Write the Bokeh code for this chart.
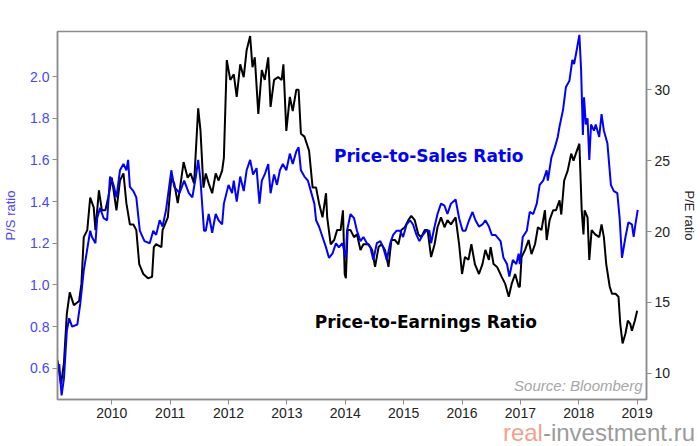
from bokeh.plotting import figure
from bokeh.models import Range1d, LinearAxis, FixedTicker, Label, PrintfTickFormatter, Div
from bokeh.layouts import column
from bokeh.embed import file_html
from bokeh.resources import INLINE

# ---- data (decimal year, value) ----
ps_years = [2009.10, 2009.14, 2009.18, 2009.23, 2009.27, 2009.32, 2009.41, 2009.46, 2009.52, 2009.55,
            2009.63, 2009.66, 2009.72, 2009.75, 2009.80, 2009.86, 2009.92, 2009.97, 2010.03, 2010.08,
            2010.14, 2010.20, 2010.25, 2010.28, 2010.31, 2010.37, 2010.42, 2010.48, 2010.56, 2010.65,
            2010.71, 2010.76, 2010.82, 2010.87, 2010.93, 2011.02, 2011.07, 2011.16, 2011.24, 2011.32,
            2011.38, 2011.44, 2011.48, 2011.52, 2011.58, 2011.61, 2011.66, 2011.72, 2011.78, 2011.83,
            2011.89, 2011.92, 2012.00, 2012.06, 2012.09, 2012.14, 2012.20, 2012.26, 2012.31, 2012.37,
            2012.42, 2012.48, 2012.53, 2012.57, 2012.62, 2012.68, 2012.72, 2012.78, 2012.83, 2012.88,
            2012.93, 2012.99, 2013.05, 2013.10, 2013.16, 2013.20, 2013.24, 2013.30, 2013.36, 2013.41,
            2013.47, 2013.50, 2013.55, 2013.61, 2013.67, 2013.72, 2013.78, 2013.84, 2013.89, 2013.95,
            2014.01, 2014.03, 2014.09, 2014.15, 2014.20, 2014.26, 2014.31, 2014.37, 2014.43, 2014.48,
            2014.54, 2014.60, 2014.65, 2014.71, 2014.77, 2014.82, 2014.88, 2014.94, 2014.99, 2015.05,
            2015.11, 2015.16, 2015.22, 2015.27, 2015.33, 2015.39, 2015.44, 2015.47, 2015.53, 2015.58,
            2015.64, 2015.70, 2015.75, 2015.81, 2015.89, 2015.95, 2016.01, 2016.06, 2016.12, 2016.18,
            2016.23, 2016.29, 2016.35, 2016.40, 2016.46, 2016.51, 2016.57, 2016.66, 2016.71, 2016.77,
            2016.81, 2016.87, 2016.93, 2016.97, 2016.99, 2017.04, 2017.11, 2017.16, 2017.22, 2017.28,
            2017.33, 2017.39, 2017.45, 2017.47, 2017.53, 2017.59, 2017.64, 2017.67, 2017.73, 2017.78,
            2017.84, 2017.89, 2017.92, 2017.96, 2018.01, 2018.04, 2018.07, 2018.09, 2018.12, 2018.15,
            2018.18, 2018.21, 2018.26, 2018.29, 2018.35, 2018.39, 2018.43, 2018.49, 2018.55, 2018.60,
            2018.66, 2018.70, 2018.74, 2018.80, 2018.85, 2018.91, 2018.94, 2018.97, 2019.01]
ps_values = [0.62, 0.47, 0.55, 0.78, 0.84, 0.80, 0.81, 0.91, 1.07, 1.12,
             1.26, 1.23, 1.20, 1.32, 1.37, 1.32, 1.31, 1.52, 1.48, 1.42,
             1.55, 1.58, 1.55, 1.60, 1.47, 1.45, 1.42, 1.26, 1.21, 1.20,
             1.26, 1.24, 1.31, 1.28, 1.36, 1.55, 1.47, 1.44, 1.50, 1.44,
             1.42, 1.52, 1.60, 1.50, 1.26, 1.26, 1.34, 1.25, 1.34, 1.31,
             1.29, 1.39, 1.48, 1.44, 1.50, 1.40, 1.52, 1.45, 1.55, 1.60,
             1.53, 1.56, 1.39, 1.50, 1.53, 1.58, 1.44, 1.53, 1.48, 1.55,
             1.58, 1.55, 1.63, 1.58, 1.64, 1.66, 1.55, 1.52, 1.50, 1.45,
             1.39, 1.31, 1.28, 1.23, 1.18, 1.13, 1.15, 1.20, 1.18, 1.20,
             1.13, 1.26, 1.34, 1.32, 1.26, 1.21, 1.23, 1.20, 1.18, 1.12,
             1.20, 1.21, 1.18, 1.12, 1.20, 1.24, 1.26, 1.26, 1.23, 1.29,
             1.31, 1.29, 1.24, 1.21, 1.24, 1.26, 1.26, 1.20, 1.28, 1.34,
             1.39, 1.38, 1.34, 1.39, 1.41, 1.32, 1.26, 1.26, 1.31, 1.35,
             1.31, 1.28, 1.29, 1.31, 1.28, 1.24, 1.24, 1.21, 1.13, 1.10,
             1.04, 1.12, 1.10, 1.15, 1.10, 1.23, 1.26, 1.35, 1.34, 1.39,
             1.48, 1.50, 1.55, 1.50, 1.61, 1.66, 1.71, 1.76, 1.84, 1.95,
             1.98, 2.08, 2.06, 2.12, 2.20, 2.03, 1.72, 1.90, 1.77, 1.80,
             1.60, 1.77, 1.74, 1.77, 1.71, 1.82, 1.74, 1.68, 1.48, 1.45,
             1.44, 1.32, 1.13, 1.23, 1.30, 1.29, 1.23, 1.29, 1.36]

pe_years = [2009.07, 2009.13, 2009.18, 2009.23, 2009.28, 2009.35, 2009.44, 2009.48, 2009.52, 2009.58,
            2009.63, 2009.69, 2009.72, 2009.78, 2009.83, 2009.89, 2009.94, 2010.00, 2010.08, 2010.14,
            2010.20, 2010.25, 2010.31, 2010.37, 2010.42, 2010.47, 2010.54, 2010.62, 2010.69, 2010.72,
            2010.76, 2010.85, 2010.87, 2010.96, 2011.02, 2011.07, 2011.13, 2011.18, 2011.23, 2011.30,
            2011.35, 2011.41, 2011.48, 2011.52, 2011.57, 2011.61, 2011.66, 2011.72, 2011.78, 2011.83,
            2011.89, 2011.92, 2011.97, 2012.03, 2012.09, 2012.14, 2012.20, 2012.26, 2012.31, 2012.37,
            2012.41, 2012.45, 2012.51, 2012.57, 2012.62, 2012.68, 2012.72, 2012.78, 2012.85, 2012.91,
            2012.94, 2012.99, 2013.05, 2013.10, 2013.16, 2013.20, 2013.24, 2013.30, 2013.38, 2013.44,
            2013.50, 2013.55, 2013.61, 2013.67, 2013.69, 2013.75, 2013.81, 2013.86, 2013.92, 2013.96,
            2013.99, 2014.01, 2014.04, 2014.09, 2014.15, 2014.20, 2014.26, 2014.31, 2014.40, 2014.46,
            2014.51, 2014.57, 2014.62, 2014.68, 2014.74, 2014.79, 2014.85, 2014.91, 2014.96, 2015.02,
            2015.08, 2015.13, 2015.19, 2015.25, 2015.30, 2015.36, 2015.41, 2015.47, 2015.53, 2015.58,
            2015.64, 2015.70, 2015.75, 2015.81, 2015.89, 2015.95, 2016.00, 2016.05, 2016.11, 2016.16,
            2016.22, 2016.29, 2016.35, 2016.40, 2016.46, 2016.49, 2016.54, 2016.60, 2016.68, 2016.74,
            2016.80, 2016.85, 2016.91, 2016.97, 2016.99, 2017.02, 2017.08, 2017.14, 2017.19, 2017.25,
            2017.30, 2017.36, 2017.42, 2017.45, 2017.50, 2017.56, 2017.61, 2017.67, 2017.70, 2017.75,
            2017.81, 2017.87, 2017.91, 2017.95, 2018.01, 2018.05, 2018.08, 2018.10, 2018.15, 2018.18,
            2018.22, 2018.28, 2018.35, 2018.39, 2018.43, 2018.47, 2018.53, 2018.57, 2018.63, 2018.68,
            2018.71, 2018.75, 2018.80, 2018.84, 2018.88, 2018.91, 2018.96, 2019.00]
pe_values = [10.9, 9.2, 10.7, 14.2, 15.7, 14.8, 15.1, 16.3, 19.6, 20.1,
             22.4, 21.7, 20.1, 22.9, 21.5, 21.5, 22.4, 23.8, 21.5, 23.6,
             24.1, 22.0, 20.5, 20.5, 20.1, 17.7, 17.0, 16.7, 16.8, 18.9,
             19.1, 18.9, 20.1, 21.0, 23.8, 23.4, 22.0, 23.4, 24.9, 23.8,
             24.1, 23.4, 28.7, 27.1, 23.1, 24.1, 23.4, 22.7, 24.1, 23.6,
             24.3, 25.2, 32.1, 30.7, 31.1, 29.5, 31.8, 30.9, 32.8, 33.8,
             31.6, 32.3, 28.3, 31.4, 30.7, 32.3, 28.8, 30.7, 30.9, 30.7,
             31.8, 27.1, 29.5, 28.5, 30.0, 30.0, 26.9, 26.7, 25.7, 23.1,
             23.1, 22.0, 21.0, 22.7, 21.0, 19.1, 19.4, 20.1, 20.1, 21.5,
             17.0, 16.7, 20.1, 20.1, 19.6, 19.8, 18.7, 19.1, 19.1, 18.7,
             17.5, 18.9, 19.1, 18.7, 17.5, 19.4, 19.4, 19.1, 20.1, 20.3,
             20.8, 21.1, 20.8, 19.8, 19.6, 20.1, 20.1, 18.2, 19.1, 20.3,
             21.0, 20.3, 20.8, 20.5, 21.0, 19.1, 17.0, 18.2, 18.0, 19.1,
             17.7, 17.0, 17.7, 18.7, 18.0, 18.9, 17.7, 17.5, 16.8, 16.3,
             15.4, 16.3, 17.0, 16.1, 16.1, 18.2, 18.7, 19.4, 18.4, 19.1,
             20.3, 20.1, 21.5, 19.4, 20.8, 21.5, 21.5, 22.2, 21.2, 23.6,
             24.3, 25.5, 25.0, 25.5, 26.2, 21.5, 19.8, 21.5, 21.0, 18.0,
             20.1, 19.8, 19.6, 20.5, 19.6, 17.7, 16.1, 15.6, 15.6, 15.4,
             13.5, 12.1, 12.8, 13.7, 13.5, 13.0, 13.7, 14.4]

year_ticks = [2010, 2011, 2012, 2013, 2014, 2015, 2016, 2017, 2018, 2019]
ps_ticks = [0.6, 0.8, 1.0, 1.2, 1.4, 1.6, 1.8, 2.0]
pe_ticks = [10, 15, 20, 25, 30]

GRAY = "#8c8c8c"
BLUE = "#0000ff"
TICK_BLUE = "#4646ff"
FONT = "Liberation Sans"

p = figure(width=700, height=423, output_backend="svg", toolbar_location=None,
           x_range=Range1d(2009.07, 2019.16), y_range=Range1d(0.45, 2.216),
           min_border_left=55, min_border_right=50, min_border_top=31, min_border_bottom=24)
p.extra_y_ranges = {"pe": Range1d(8.14, 34.12)}
p.xgrid.visible = False
p.ygrid.visible = False
p.outline_line_color = GRAY
p.outline_line_width = 1.5
p.background_fill_color = "white"
p.border_fill_color = "white"

p.line(pe_years, pe_values, y_range_name="pe", line_color="black", line_width=2)
p.line(ps_years, ps_values, line_color=BLUE, line_width=2)

# bottom axis
xa = p.xaxis[0]
xa.ticker = FixedTicker(ticks=year_ticks)
xa.formatter = PrintfTickFormatter(format="%d")

# left axis
ya = p.yaxis[0]
ya.ticker = FixedTicker(ticks=ps_ticks)
ya.formatter = PrintfTickFormatter(format="%.1f")
ya.axis_label = "P/S ratio"
ya.axis_label_text_color = TICK_BLUE
ya.major_label_text_color = TICK_BLUE

# right axis
ra = LinearAxis(y_range_name="pe", ticker=FixedTicker(ticks=pe_ticks), axis_label="P/E ratio")
p.add_layout(ra, "right")
ra.axis_label_text_color = "#222222"
ra.major_label_text_color = "#222222"

for ax in [xa, ya, ra]:
    ax.axis_line_color = GRAY
    ax.axis_line_width = 1.5
    ax.major_tick_line_color = GRAY
    ax.major_tick_out = 5
    ax.major_tick_in = 0
    ax.minor_tick_line_color = None
    ax.major_label_text_font = FONT
    ax.major_label_text_font_size = "14px"
    ax.major_label_standoff = 3
    ax.axis_label_text_font = FONT
    ax.axis_label_text_font_size = "13px"
    ax.axis_label_text_font_style = "normal"
xa.major_label_text_color = "#222222"
ya.axis_label_standoff = 9
ra.axis_label_standoff = 9

p.add_layout(Label(x=2015.43, y=1.62, text="Price-to-Sales Ratio", text_align="center",
                   text_baseline="middle", text_font="DejaVu Sans", text_font_style="bold",
                   text_font_size="17px", text_color=BLUE))
p.add_layout(Label(x=2015.38, y=0.822, text="Price-to-Earnings Ratio", text_align="center",
                   text_baseline="middle", text_font="DejaVu Sans", text_font_style="bold",
                   text_font_size="17px", text_color="black"))
p.add_layout(Label(x=585, y=14, x_units="screen", y_units="screen", text="Source: Bloomberg",
                   text_align="right", text_baseline="middle", text_font=FONT,
                   text_font_style="italic", text_font_size="15px", text_color="#a6a6a6"))

wm = Div(text='<span style="color:#f2a08c">real</span><span style="color:#9b9b9b">-investment.ru</span>',
         width=700, height=23,
         styles={"text-align": "right", "font-family": "Liberation Sans", "font-size": "24px",
                 "line-height": "20px", "padding-right": "5px", "box-sizing": "border-box",
                 "width": "700px", "margin": "0"})

layout = column(p, wm, spacing=0)
open("out.html", "w").write(file_html(layout, INLINE))
